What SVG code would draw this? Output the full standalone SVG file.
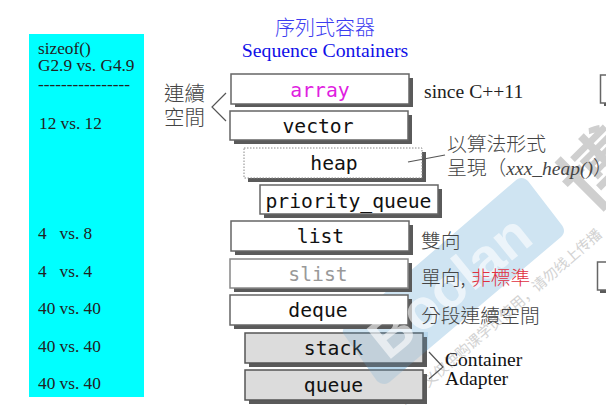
<svg xmlns="http://www.w3.org/2000/svg" width="606" height="418" viewBox="0 0 606 418">
<style>
.s{fill:#5a5a5a}
.b{fill:#fff;stroke:#666;stroke-width:1.5}
.g{fill:#dcdcdc;stroke:#555;stroke-width:1.5}
.m{font-family:"DejaVu Sans Mono","Liberation Mono",monospace;font-size:19.7px;text-anchor:middle;fill:#111}
.t{font-family:"Liberation Serif",serif;font-size:17.3px;fill:#222}
.c{font-family:"Noto Sans CJK TC","Liberation Serif",sans-serif;font-size:19.8px;fill:#444;font-weight:300}
.e{font-family:"Liberation Serif",serif;font-size:19.6px;fill:#111}
.l{fill:none;stroke:#555;stroke-width:1.2}
</style>
<defs>
<path id="band" d="M515 181C519 177 524 177 528 181L561 224C565 229 565 233 561 237L392 380C387 385 382 385 377 381L345 336C342 333 342 330 345 327Z"/>
<clipPath id="grayBoxes"><rect x="244" y="332" width="184" height="73"/></clipPath>
</defs>
<rect width="606" height="418" fill="#fff"/>
<g id="watermark">
<use href="#band" fill="#cfe4f2"/>
<text transform="translate(618,188) rotate(-45)" text-anchor="middle" font-family="Noto Sans CJK SC,sans-serif" font-size="74" font-weight="700" fill="#cfcfcf">博</text>
<text transform="translate(406,407) rotate(-41)" font-family="Noto Sans CJK SC,sans-serif" font-size="14.500" fill="#d2d2d2">本讲义仅供购课学员使用，请勿线上传播</text>
</g>
<g id="sizeof">
<rect x="29" y="34" width="115" height="363" fill="#0ff"/>
<text class="t" x="38" y="54">sizeof()</text>
<text class="t" x="38" y="71">G2.9 vs. G4.9</text>
<text class="t" x="38" y="90">----------------</text>
<text class="t" x="39" y="129">12 vs. 12</text>
<text class="t" x="38" y="239" xml:space="preserve">4   vs. 8</text>
<text class="t" x="38" y="277" xml:space="preserve">4   vs. 4</text>
<text class="t" x="38" y="314">40 vs. 40</text>
<text class="t" x="38" y="352">40 vs. 40</text>
<text class="t" x="38" y="389">40 vs. 40</text>
</g>
<g id="title">
<text x="325" y="35" text-anchor="middle" font-family="Noto Sans CJK TC,sans-serif" font-size="20" fill="#3c3cf0" font-weight="300">序列式容器</text>
<text x="325" y="57" text-anchor="middle" font-family="Liberation Serif,serif" font-size="19.8" fill="#1010e8">Sequence Containers</text>
</g>
<g id="array"><rect class="s" x="235" y="78" width="178" height="29"/><rect class="b" x="231" y="74" width="178" height="30"/><text class="m" x="320" y="97" style="fill:#e020e0">array</text></g>
<g id="vector"><rect class="s" x="234" y="115" width="178" height="29"/><rect class="b" x="230" y="111" width="178" height="29"/><text class="m" x="318" y="133">vector</text></g>
<g id="heap"><rect class="s" x="248" y="152" width="178" height="30"/><rect x="244" y="148" width="178" height="30" fill="#fff" stroke="#888" stroke-dasharray="1.5 1.5"/><text class="m" x="334" y="170">heap</text></g>
<g id="priority_queue"><rect class="s" x="264" y="189" width="178" height="29"/><rect class="b" x="260" y="185" width="178" height="29"/><text class="m" x="348.500" y="208">priority_queue</text></g>
<g id="list"><rect class="s" x="235" y="225" width="178" height="30"/><rect class="b" x="231" y="221" width="178" height="30"/><text class="m" x="320.500" y="243">list</text></g>
<g id="slist"><rect class="s" x="234" y="263" width="178" height="29"/><rect class="b" x="230" y="259" width="178" height="29" style="stroke:#888"/><text class="m" x="318" y="281" style="fill:#999">slist</text></g>
<g id="deque"><rect class="s" x="234" y="299" width="178" height="30"/><rect class="b" x="230" y="295" width="178" height="30"/><text class="m" x="318" y="317">deque</text></g>
<g id="stack"><rect class="s" x="249" y="337" width="178" height="30"/><rect class="g" x="245" y="333" width="178" height="30"/><text class="m" x="333.500" y="355">stack</text></g>
<g id="queue"><rect class="s" x="249" y="374" width="178" height="30"/><rect class="g" x="245" y="370" width="178" height="30"/><text class="m" x="333.500" y="392">queue</text></g>
<g id="watermark-over">
<use href="#band" clip-path="url(#grayBoxes)" fill="#6aa8d8" fill-opacity="0.22"/>
<text transform="translate(388,361) rotate(-39)" font-family="Liberation Sans,sans-serif" font-size="56" font-weight="700" fill="#fff" fill-opacity="0.6">Boolan</text>
</g>
<g id="connectors">
<path class="l" d="M226 93L212 107L226 121"/>
<path class="l" d="M408 162L445 155"/>
<path class="l" d="M429 352L443 367L429 379"/>
</g>
<g id="labels">
<text class="c" x="164" y="101" style="font-size:20.5px">連續</text>
<text class="c" x="164" y="125" style="font-size:20.5px">空間</text>
<text class="e" x="424" y="98" style="fill:#222">since C++11</text>
<text class="c" x="447" y="151">以算法形式</text>
<text class="c" x="447" y="175">呈現（<tspan font-family="Liberation Serif,serif" font-style="italic" font-size="19.500">xxx_heap()</tspan>）</text>
<text class="c" x="421" y="248">雙向</text>
<text class="c" x="421" y="285">單向,</text>
<text class="c" x="471" y="285" style="fill:#e03040">非標準</text>
<text class="c" x="421" y="323">分段連續空間</text>
<text class="e" x="445" y="366">Container</text>
<text class="e" x="445" y="385">Adapter</text>
</g>
<g id="edge">
<rect x="604" y="78" width="6" height="28" fill="#5a5a5a"/>
<rect x="600.500" y="75" width="8" height="28" fill="#fff" stroke="#666" stroke-width="1.5"/>
<rect x="600" y="265" width="10" height="28" fill="#5a5a5a"/>
<rect x="597.500" y="262" width="12" height="28" fill="#fff" stroke="#666" stroke-width="1.5"/>
</g>
</svg>
